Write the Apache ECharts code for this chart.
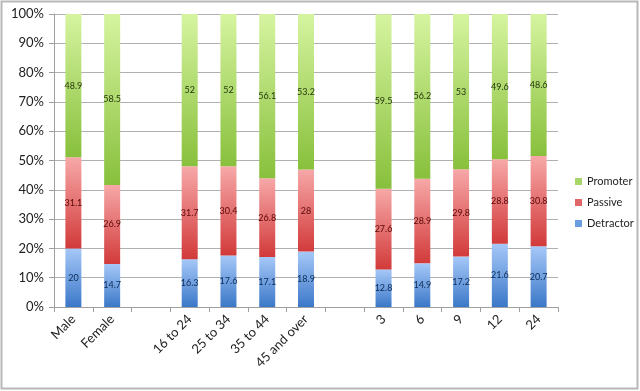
<!DOCTYPE html>
<html><head><meta charset="utf-8">
<script src="https://cdn.jsdelivr.net/npm/echarts@6/dist/echarts.min.js"></script>
<style>html,body{margin:0;padding:0;background:#fff}#c{width:640px;height:391px}</style>
</head><body><div id="c"></div>
<script>
var categories = ['Male','Female','','16 to 24','25 to 34','35 to 44','45 and over','','3','6','9','12','24'];
var detractor = [20,14.7,null,16.3,17.6,17.1,18.9,null,12.8,14.9,17.2,21.6,20.7];
var passive   = [31.1,26.9,null,31.7,30.4,26.8,28,null,27.6,28.9,29.8,28.8,30.8];
var promoter  = [48.9,58.5,null,52,52,56.1,53.2,null,59.5,56.2,53,49.6,48.6];
var yTicks = [0,10,20,30,40,50,60,70,80,90,100];

function grad(top, bottom){
  return new echarts.graphic.LinearGradient(0,0,0,1,[{offset:0,color:top},{offset:1,color:bottom}]);
}
var font = 'Lato, "Liberation Sans", sans-serif';
function ser(name, data, top, bottom, lc){
  return {
    name:name, type:'bar', stack:'all', data:data, barWidth:16,
    itemStyle:{color:grad(top,bottom)},
    label:{show:true, position:'inside', fontSize:9, fontFamily:font, color:lc,
      formatter:function(p){return p.value==null?'':String(p.value);}},
    emphasis:{disabled:true}
  };
}
var chart = echarts.init(document.getElementById('c'), null, {renderer:'canvas'});
chart.setOption({
  animation:false,
  graphic:[{type:'rect', shape:{x:1.5,y:1.5,width:636,height:387}, style:{fill:'none', stroke:'#b8b8b8', lineWidth:2}, silent:true}],
  grid:{left:54, right:82, top:14, bottom:84},
  legend:{
    orient:'vertical', left:570, top:171, itemWidth:7, itemHeight:7, itemGap:10,
    textStyle:{fontSize:11, fontFamily:font, color:'#222'},
    data:[
      {name:'Promoter', itemStyle:{color:'#a8d66a'}},
      {name:'Passive', itemStyle:{color:'#e06868'}},
      {name:'Detractor', itemStyle:{color:'#6a9ee0'}}
    ],
    icon:'rect'
  },
  xAxis:{
    type:'category', data:categories,
    axisLine:{lineStyle:{color:'#a0a0a0'}},
    axisTick:{show:true, length:5, lineStyle:{color:'#a0a0a0'}},
    axisLabel:{rotate:45, fontSize:13, fontFamily:font, color:'#222', margin:10, interval:0}
  },
  yAxis:{
    type:'value', min:0, max:100, interval:10,
    axisLine:{show:true, lineStyle:{color:'#a0a0a0'}},
    axisTick:{show:true, length:5, lineStyle:{color:'#a0a0a0'}},
    splitLine:{lineStyle:{color:'#b0b0b0'}},
    axisLabel:{fontSize:13, fontFamily:font, color:'#222', margin:10,
      formatter:function(v){return yTicks.indexOf(v)>=0? v+'%' : '';}}
  },
  series:[
    ser('Detractor', detractor, '#a6c8f8', '#3b78c8', '#0c2a55'),
    ser('Passive', passive, '#f7a8a8', '#d23a3a', '#5a0808'),
    ser('Promoter', promoter, '#d6f4a0', '#88c03c', '#26380e')
  ]
});
</script></body></html>
